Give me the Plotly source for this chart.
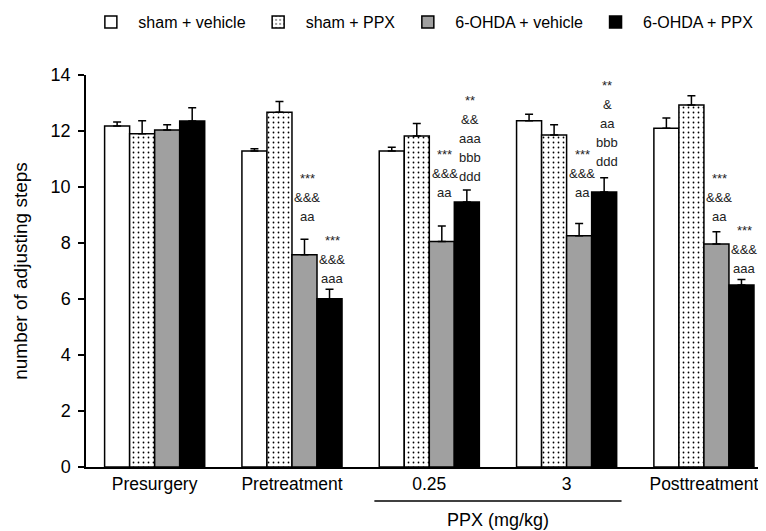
import plotly.graph_objects as go

categories = ["Presurgery", "Pretreatment", "0.25", "3", "Posttreatment"]
series_names = ["sham + vehicle", "sham + PPX", "6-OHDA + vehicle", "6-OHDA + PPX"]

sham_vehicle = [12.18, 11.29, 11.29, 12.37, 12.10]
sham_vehicle_err = [0.14, 0.08, 0.13, 0.23, 0.36]
sham_ppx = [11.90, 12.67, 11.82, 11.86, 12.93]
sham_ppx_err = [0.47, 0.38, 0.45, 0.36, 0.33]
ohda_vehicle = [12.04, 7.58, 8.05, 8.26, 7.96]
ohda_vehicle_err = [0.18, 0.55, 0.56, 0.44, 0.44]
ohda_ppx = [12.36, 6.01, 9.46, 9.82, 6.50]
ohda_ppx_err = [0.47, 0.34, 0.43, 0.51, 0.20]

# significance labels: (category, series index, lines top->bottom, height of bottom line)
sig_labels = [
    ("Pretreatment", 2, ["***", "&&&", "aa"], 8.93),
    ("Pretreatment", 3, ["***", "&&&", "aaa"], 6.75),
    ("0.25", 2, ["***", "&&&", "aa"], 9.82),
    ("0.25", 3, ["**", "&&", "aaa", "bbb", "ddd"], 10.36),
    ("3", 2, ["***", "&&&", "aa"], 9.82),
    ("3", 3, ["**", "&", "aa", "bbb", "ddd"], 10.9),
    ("Posttreatment", 2, ["***", "&&&", "aa"], 8.93),
    ("Posttreatment", 3, ["***", "&&&", "aaa"], 7.1),
]

FONT = "Liberation Sans, Arial, sans-serif"

values = [sham_vehicle, sham_ppx, ohda_vehicle, ohda_ppx]
errors = [sham_vehicle_err, sham_ppx_err, ohda_vehicle_err, ohda_ppx_err]
colors = ["white", "white", "#a0a0a0", "black"]

fig = go.Figure()
for i, (name, vals, errs, col) in enumerate(zip(series_names, values, errors, colors)):
    marker = dict(color=col, line=dict(color="black", width=1.5))
    if i == 1:
        marker["pattern"] = dict(shape=".", bgcolor="white", fgcolor="black",
                                 size=5, solidity=0.1, fillmode="replace")
    fig.add_trace(go.Bar(
        x=categories, y=vals, name=name, marker=marker,
        error_y=dict(type="data", array=errs, arrayminus=[0] * len(errs),
                     symmetric=False, color="black", thickness=1.5, width=4),
    ))

bar_px = 25
for cat, idx, lines, ybot in sig_labels:
    n = len(lines)
    xpos = categories.index(cat)
    for k, txt in enumerate(lines):
        fig.add_annotation(
            x=xpos, y=ybot, xref="x", yref="y", text=txt, showarrow=False,
            xshift=(idx - 1.5) * bar_px + 3, yshift=19 * (n - 1 - k),
            yanchor="middle", xanchor="center",
            font=dict(family=FONT, size=13, color="#222222"),
        )

# PPX dose bracket
fig.add_shape(type="line", xref="x", yref="paper", x0=1.6, x1=3.4,
              y0=-0.087, y1=-0.087, line=dict(color="black", width=1.5))
fig.add_annotation(x=2.5, y=-0.135, xref="x", yref="paper", text="PPX (mg/kg)",
                   showarrow=False, yanchor="middle",
                   font=dict(family=FONT, size=18, color="black"))

# the page body adds an 8px offset; margins compensate for it
fig.update_layout(
    width=766, height=531,
    margin=dict(l=78, r=8, t=67, b=72, autoexpand=False),
    paper_bgcolor="white", plot_bgcolor="white",
    barmode="group", bargap=0.271, bargroupgap=0,
    font=dict(family=FONT, color="black"),
    legend=dict(orientation="h", x=0.539, xanchor="center", xref="container",
                y=0.9736, yanchor="middle", yref="container",
                font=dict(family=FONT, size=16), itemwidth=45, traceorder="normal"),
    xaxis=dict(type="category", range=[-0.5, 4.452], showline=True, linecolor="black",
               linewidth=1.5, ticks="", tickfont=dict(family=FONT, size=17.5),
               ticklabeloverflow="allow",
               showgrid=False, zeroline=False, automargin=False),
    yaxis=dict(range=[0, 14], dtick=2, showline=True, linecolor="black", linewidth=1.5,
               ticks="outside", ticklen=6, tickwidth=1.5, tickcolor="black",
               ticklabelstandoff=4,
               tickfont=dict(family=FONT, size=18), showgrid=False, zeroline=False,
               automargin=False,
               title=dict(text="number of adjusting steps", standoff=18,
                          font=dict(family=FONT, size=19))),
)

fig.write_html("out.html")
